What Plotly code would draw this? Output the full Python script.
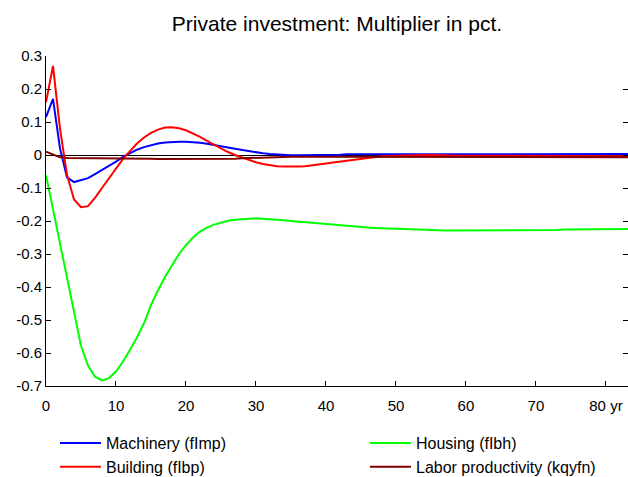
import plotly.graph_objects as go

# Years after the shock
years = list(range(0, 85))

machinery = [
    0.115, 0.170, 0.020, -0.068, -0.082, -0.077, -0.070, -0.058, -0.046, -0.034,
    -0.020, -0.006, 0.006, 0.016, 0.024, 0.030, 0.035, 0.038, 0.040, 0.040,
    0.040, 0.039, 0.037, 0.034, 0.031, 0.027, 0.023, 0.019, 0.015, 0.012,
    0.008, 0.005, 0.003, 0.001, 0.000, -0.001, -0.001, -0.001, -0.001, 0.000,
    0.000, 0.001, 0.001, 0.002, 0.002, 0.002, 0.003, 0.003, 0.003, 0.003,
    0.003, 0.003, 0.003, 0.003, 0.003, 0.003, 0.003, 0.003, 0.003, 0.003,
    0.003, 0.003, 0.003, 0.003, 0.003, 0.003, 0.003, 0.003, 0.003, 0.003,
    0.003, 0.003, 0.003, 0.003, 0.003, 0.003, 0.003, 0.003, 0.003, 0.003,
    0.003, 0.003, 0.003, 0.003, 0.003,
]

building = [
    0.160, 0.270, 0.080, -0.060, -0.135, -0.158, -0.155, -0.130, -0.100, -0.070,
    -0.040, -0.012, 0.012, 0.035, 0.053, 0.067, 0.077, 0.083, 0.084, 0.081,
    0.075, 0.066, 0.055, 0.043, 0.031, 0.019, 0.009, 0.000, -0.008, -0.016,
    -0.022, -0.027, -0.031, -0.034, -0.035, -0.036, -0.035, -0.034, -0.032, -0.029,
    -0.026, -0.023, -0.020, -0.017, -0.014, -0.011, -0.008, -0.006, -0.004, -0.003,
    -0.002, -0.001, 0.000, 0.000, 0.000, 0.000, -0.001, -0.001, -0.001, -0.002,
    -0.002, -0.002, -0.002, -0.003, -0.003, -0.003, -0.003, -0.003, -0.003, -0.004,
    -0.004, -0.004, -0.004, -0.004, -0.004, -0.004, -0.004, -0.004, -0.004, -0.004,
    -0.004, -0.004, -0.004, -0.004, -0.004,
]

housing = [
    -0.061, -0.165, -0.268, -0.375, -0.485, -0.578, -0.638, -0.672, -0.683, -0.676,
    -0.656, -0.626, -0.590, -0.553, -0.510, -0.455, -0.410, -0.370, -0.335, -0.300,
    -0.273, -0.250, -0.232, -0.220, -0.211, -0.204, -0.199, -0.196, -0.194, -0.193,
    -0.192, -0.193, -0.194, -0.196, -0.198, -0.200, -0.202, -0.204, -0.206, -0.208,
    -0.210, -0.212, -0.214, -0.216, -0.217, -0.219, -0.220, -0.221, -0.222, -0.223,
    -0.224, -0.225, -0.226, -0.226, -0.227, -0.228, -0.228, -0.229, -0.229, -0.229,
    -0.229, -0.229, -0.229, -0.229, -0.229, -0.229, -0.229, -0.228, -0.228, -0.228,
    -0.228, -0.227, -0.227, -0.227, -0.226, -0.226, -0.226, -0.226, -0.225, -0.225,
    -0.225, -0.225, -0.224, -0.224, -0.224,
]

labor = [
    0.010, 0.002, -0.007, -0.009, -0.009, -0.009, -0.009, -0.009, -0.009, -0.009,
    -0.009, -0.010, -0.010, -0.011, -0.011, -0.011, -0.012, -0.012, -0.012, -0.012,
    -0.013, -0.013, -0.013, -0.013, -0.013, -0.013, -0.012, -0.011, -0.010, -0.009,
    -0.008, -0.007, -0.007, -0.006, -0.006, -0.005, -0.005, -0.005, -0.005, -0.005,
    -0.005, -0.005, -0.005, -0.005, -0.005, -0.005, -0.005, -0.005, -0.005, -0.005,
    -0.005, -0.006, -0.006, -0.006, -0.006, -0.006, -0.006, -0.006, -0.007, -0.007,
    -0.007, -0.007, -0.007, -0.007, -0.007, -0.007, -0.007, -0.007, -0.007, -0.007,
    -0.007, -0.007, -0.007, -0.007, -0.007, -0.007, -0.007, -0.007, -0.007, -0.007,
    -0.007, -0.007, -0.007, -0.007, -0.007,
]

x_tick_vals = [0, 10, 20, 30, 40, 50, 60, 70, 80]
x_tick_text = ["0", "10", "20", "30", "40", "50", "60", "70", "80 yr"]
y_tick_vals = [0.3, 0.2, 0.1, 0.0, -0.1, -0.2, -0.3, -0.4, -0.5, -0.6, -0.7]
y_tick_text = ["0.3", "0.2", "0.1", "0", "-0.1", "-0.2", "-0.3", "-0.4", "-0.5", "-0.6", "-0.7"]

# (name, values, colour, legend column)
series = [
    ("Machinery (fImp)", machinery, "#0000ff", "legend"),
    ("Building (fIbp)", building, "#ff0000", "legend"),
    ("Housing (fIbh)", housing, "#00ff00", "legend2"),
    ("Labor productivity (kqyfn)", labor, "#800000", "legend2"),
]

FONT = "Liberation Sans, Arial, Helvetica, sans-serif"
W, H = 628, 477
L, R, T, B = 46, 0, 56, 91
plot_w = W - L - R
plot_h = H - T - B

fig = go.Figure()
for name, values, color, leg in series:
    fig.add_trace(go.Scatter(
        x=years, y=values, mode="lines", name=name, legend=leg,
        line=dict(color=color, width=2),
    ))

legend_style = dict(
    orientation="v",
    xanchor="left",
    y=-(426 - (H - B)) / plot_h, yanchor="top",
    itemwidth=41,
    tracegroupgap=0,
    font=dict(family=FONT, size=16, color="black"),
    bgcolor="rgba(0,0,0,0)",
)

fig.update_layout(
    width=W, height=H,
    margin=dict(l=L, r=R, t=T, b=B, autoexpand=False),
    paper_bgcolor="white", plot_bgcolor="white",
    font=dict(family=FONT, size=15, color="black"),
    title=dict(
        text="Private investment: Multiplier in pct.",
        x=(L + (W - R)) / 2 / W, xanchor="center",
        y=1 - 23.5 / H, yanchor="middle",
        font=dict(family=FONT, size=21, color="black"),
    ),
    showlegend=True,
    legend=dict(x=(55 - L) / plot_w, **legend_style),
    legend2=dict(x=(365 - L) / plot_w, **legend_style),
    xaxis=dict(
        range=[0, 83.15],
        tickmode="array", tickvals=x_tick_vals, ticktext=x_tick_text,
        ticks="inside", ticklen=5, tickcolor="black",
        showline=True, linecolor="black", linewidth=1,
        showgrid=False, zeroline=False,
        ticklabelstandoff=6,
        tickfont=dict(family=FONT, size=15, color="black"),
    ),
    yaxis=dict(
        range=[-0.7, 0.3],
        tickmode="array", tickvals=y_tick_vals, ticktext=y_tick_text,
        ticks="inside", ticklen=5, tickcolor="black",
        showline=True, linecolor="black", linewidth=1, mirror="ticks",
        showgrid=False,
        zeroline=True, zerolinecolor="black", zerolinewidth=1,
        tickfont=dict(family=FONT, size=15, color="black"),
    ),
)

fig.write_html("out.html")
